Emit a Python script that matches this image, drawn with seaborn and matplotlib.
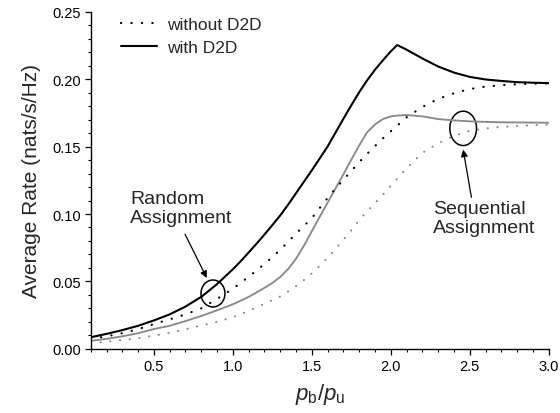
import numpy as np
import pandas as pd
import seaborn as sns
import matplotlib
matplotlib.use("Agg")
import matplotlib.pyplot as plt
from matplotlib.patches import Ellipse
from matplotlib.ticker import MultipleLocator, FormatStrFormatter

# ---- data ----
x = [0.1, 0.2, 0.3, 0.4, 0.5, 0.6, 0.7, 0.8, 0.9,
     1.0, 1.05, 1.1, 1.15, 1.2, 1.25, 1.3, 1.35, 1.4, 1.45, 1.5, 1.55, 1.6,
     1.65, 1.7, 1.75, 1.8, 1.85, 1.9, 1.95, 2.0,
     2.04,
     2.1, 2.2, 2.3, 2.4, 2.5, 2.6, 2.7, 2.8, 2.9, 3.0]

rand_with = [0.0085, 0.011, 0.0138, 0.017, 0.021, 0.0255, 0.0313, 0.0385, 0.048,
             0.059, 0.065, 0.0715, 0.078, 0.0848, 0.0918, 0.099, 0.107, 0.1155,
             0.124, 0.1325, 0.1413, 0.1502, 0.1605, 0.1708, 0.1808, 0.1905,
             0.1993, 0.2072, 0.2142, 0.2208,
             0.2255,
             0.222, 0.2155, 0.2095, 0.205, 0.2018, 0.1999, 0.1988, 0.1979,
             0.1975, 0.1972]

rand_without = [0.0072, 0.0092, 0.0115, 0.0145, 0.0183, 0.0218, 0.0255, 0.030,
                0.037,
                0.0445, 0.049, 0.0535, 0.058, 0.063, 0.068, 0.0735, 0.0793,
                0.0855, 0.0912, 0.097, 0.1045, 0.112, 0.119, 0.1255, 0.132,
                0.1385, 0.1447, 0.1505, 0.1562, 0.1615,
                0.1655,
                0.1718, 0.1795, 0.1855, 0.1897, 0.1928, 0.1946, 0.1957, 0.1964,
                0.1968, 0.197]

seq_with = [0.0058, 0.0073, 0.0092, 0.0115, 0.0146, 0.017, 0.0205, 0.0243, 0.0285,
            0.033, 0.0357, 0.0385, 0.0418, 0.0452, 0.0488, 0.0533, 0.0592, 0.0668,
            0.0765, 0.0873, 0.098, 0.1085, 0.119, 0.1295, 0.1405, 0.151, 0.1607,
            0.1665, 0.1705, 0.1725,
            0.1731,
            0.1735, 0.1725, 0.1705, 0.1695, 0.1688, 0.1684, 0.1681, 0.168,
            0.1679, 0.1678]

seq_without = [0.0042, 0.0052, 0.0065, 0.0078, 0.0097, 0.0118, 0.0144, 0.0172,
               0.0199,
               0.0235, 0.0257, 0.028, 0.0307, 0.0335, 0.036, 0.0388, 0.0425,
               0.0465, 0.051, 0.056, 0.0615, 0.0675, 0.074, 0.081, 0.088, 0.0955,
               0.102, 0.108, 0.1145, 0.121,
               0.1262,
               0.134, 0.1455, 0.1525, 0.158, 0.1618, 0.1635, 0.1647, 0.1654,
               0.166, 0.1663]

legend_labels = ["without D2D", "with D2D"]
xticks = [0.5, 1.0, 1.5, 2.0, 2.5, 3.0]
yticks = [0.00, 0.05, 0.10, 0.15, 0.20, 0.25]

# ---- style ----
sns.set_style("ticks")
plt.rcParams["font.family"] = ["Liberation Sans", "DejaVu Sans"]
plt.rcParams["mathtext.fontset"] = "custom"
plt.rcParams["mathtext.rm"] = "Liberation Sans"
plt.rcParams["mathtext.it"] = "Liberation Sans:italic"

fig = plt.figure(figsize=(5.6, 4.14), dpi=100)
ax = fig.add_axes([0.162, 0.1553, 0.818, 0.8133])

GRAY = "#8a8a8a"
dot = (0, (0.1, 4.6))

sns.lineplot(x=x, y=seq_without, ax=ax, color=GRAY, lw=1.5, linestyle=dot,
             dash_capstyle="round")
sns.lineplot(x=x, y=seq_with, ax=ax, color=GRAY, lw=1.35)
sns.lineplot(x=x, y=rand_without, ax=ax, color="black", lw=1.6, linestyle=dot,
             dash_capstyle="round", label=legend_labels[0])
sns.lineplot(x=x, y=rand_with, ax=ax, color="black", lw=1.5,
             label=legend_labels[1])

ax.set_xlim(0.1, 3.0)
ax.set_ylim(0.0, 0.25)
ax.set_xticks(xticks)
ax.set_yticks(yticks)
ax.xaxis.set_major_formatter(FormatStrFormatter("%.1f"))
ax.yaxis.set_major_formatter(FormatStrFormatter("%.2f"))
ax.xaxis.set_minor_locator(MultipleLocator(0.1))
ax.yaxis.set_minor_locator(MultipleLocator(0.01))
ax.tick_params(which="major", length=4.2, width=0.9, direction="out",
               labelsize=10.5, pad=3, color="black", labelcolor="black")
ax.tick_params(which="minor", length=2.4, width=0.8, direction="out",
               color="black")
sns.despine(ax=ax)
for s in ["left", "bottom"]:
    ax.spines[s].set_linewidth(1.0)
    ax.spines[s].set_color("black")

ax.set_ylabel("Average Rate (nats/s/Hz)", fontsize=15, labelpad=8)
ax.set_xlabel(r"$p_\mathrm{b}/p_\mathrm{u}$", fontsize=16, labelpad=6)

leg = ax.legend(loc="upper left", bbox_to_anchor=(0.066, 0.985), frameon=False,
                fontsize=12.5, handlelength=2.1, handletextpad=0.55,
                labelspacing=0.45, borderpad=0, borderaxespad=0)

# ellipses
ax.add_patch(Ellipse((0.874, 0.041), 0.152, 0.020, fill=False, ec="black",
                     lw=1.1))
ax.add_patch(Ellipse((2.458, 0.1636), 0.169, 0.0255, fill=False, ec="black",
                     lw=1.1))

# annotations
ax.annotate("", xy=(0.835, 0.0525), xytext=(0.697, 0.085),
            arrowprops=dict(arrowstyle="-|>", color="black", lw=0.9,
                            mutation_scale=10, shrinkA=0, shrinkB=0))
ax.annotate("", xy=(2.458, 0.1478), xytext=(2.51, 0.1124),
            arrowprops=dict(arrowstyle="-|>", color="black", lw=0.9,
                            mutation_scale=10, shrinkA=0, shrinkB=0))
ax.text(0.35, 0.1045, "Random\nAssignment", fontsize=14, ha="left",
        va="center", linespacing=1.15)
ax.text(2.267, 0.097, "Sequential\nAssignment", fontsize=14, ha="left",
        va="center", linespacing=1.2)

fig.savefig("out.png", dpi=100)
